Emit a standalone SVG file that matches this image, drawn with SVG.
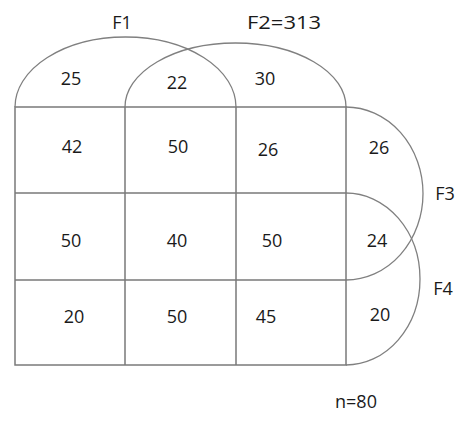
<svg xmlns="http://www.w3.org/2000/svg" width="471" height="422" viewBox="0 0 471 422">
<style>
.ln{fill:none;stroke:#7a7a7a;stroke-width:1.5}
.arc{fill:none;stroke:#808080;stroke-width:1.3}
text{font-family:"Open Sans","Liberation Sans",sans-serif;font-size:18px;fill:#1a1a1a;text-anchor:middle}
</style>
<rect width="471" height="422" fill="#fff"/>
<g id="connectors">
<path id="f1-arc" class="arc" d="M15,107 A110.5,70 0 0 1 236,107"/>
<path id="f2-arc" class="arc" d="M125,107 A110.5,64 0 0 1 346,107"/>
<path id="f3-arc" class="arc" d="M346,107 A77,86.5 0 0 1 346,280"/>
<path id="f4-arc" class="arc" d="M346,193 A74,86 0 0 1 346,365"/>
</g>
<g id="grid">
<rect class="ln" x="15" y="107" width="331" height="258"/>
<path class="ln" d="M125,107V365M236,107V365M15,193H346M15,280H346"/>
</g>
<g id="labels">
<text id="F1" x="122" y="29">F1</text>
<text id="F2" x="284" y="29" textLength="74" lengthAdjust="spacingAndGlyphs">F2=313</text>
<text id="F3" x="445" y="200">F3</text>
<text id="F4" x="443" y="295">F4</text>
<text id="n" x="356" y="408">n=80</text>
</g>
<g id="values">
<text x="71" y="85">25</text>
<text x="177" y="89">22</text>
<text x="265" y="85">30</text>
<text x="72" y="153">42</text>
<text x="178" y="153">50</text>
<text x="268" y="156">26</text>
<text x="379" y="154">26</text>
<text x="71" y="247">50</text>
<text x="177" y="247">40</text>
<text x="272" y="247">50</text>
<text x="377" y="247">24</text>
<text x="74" y="323">20</text>
<text x="177" y="323">50</text>
<text x="266" y="323">45</text>
<text x="380" y="321">20</text>
</g>
</svg>
